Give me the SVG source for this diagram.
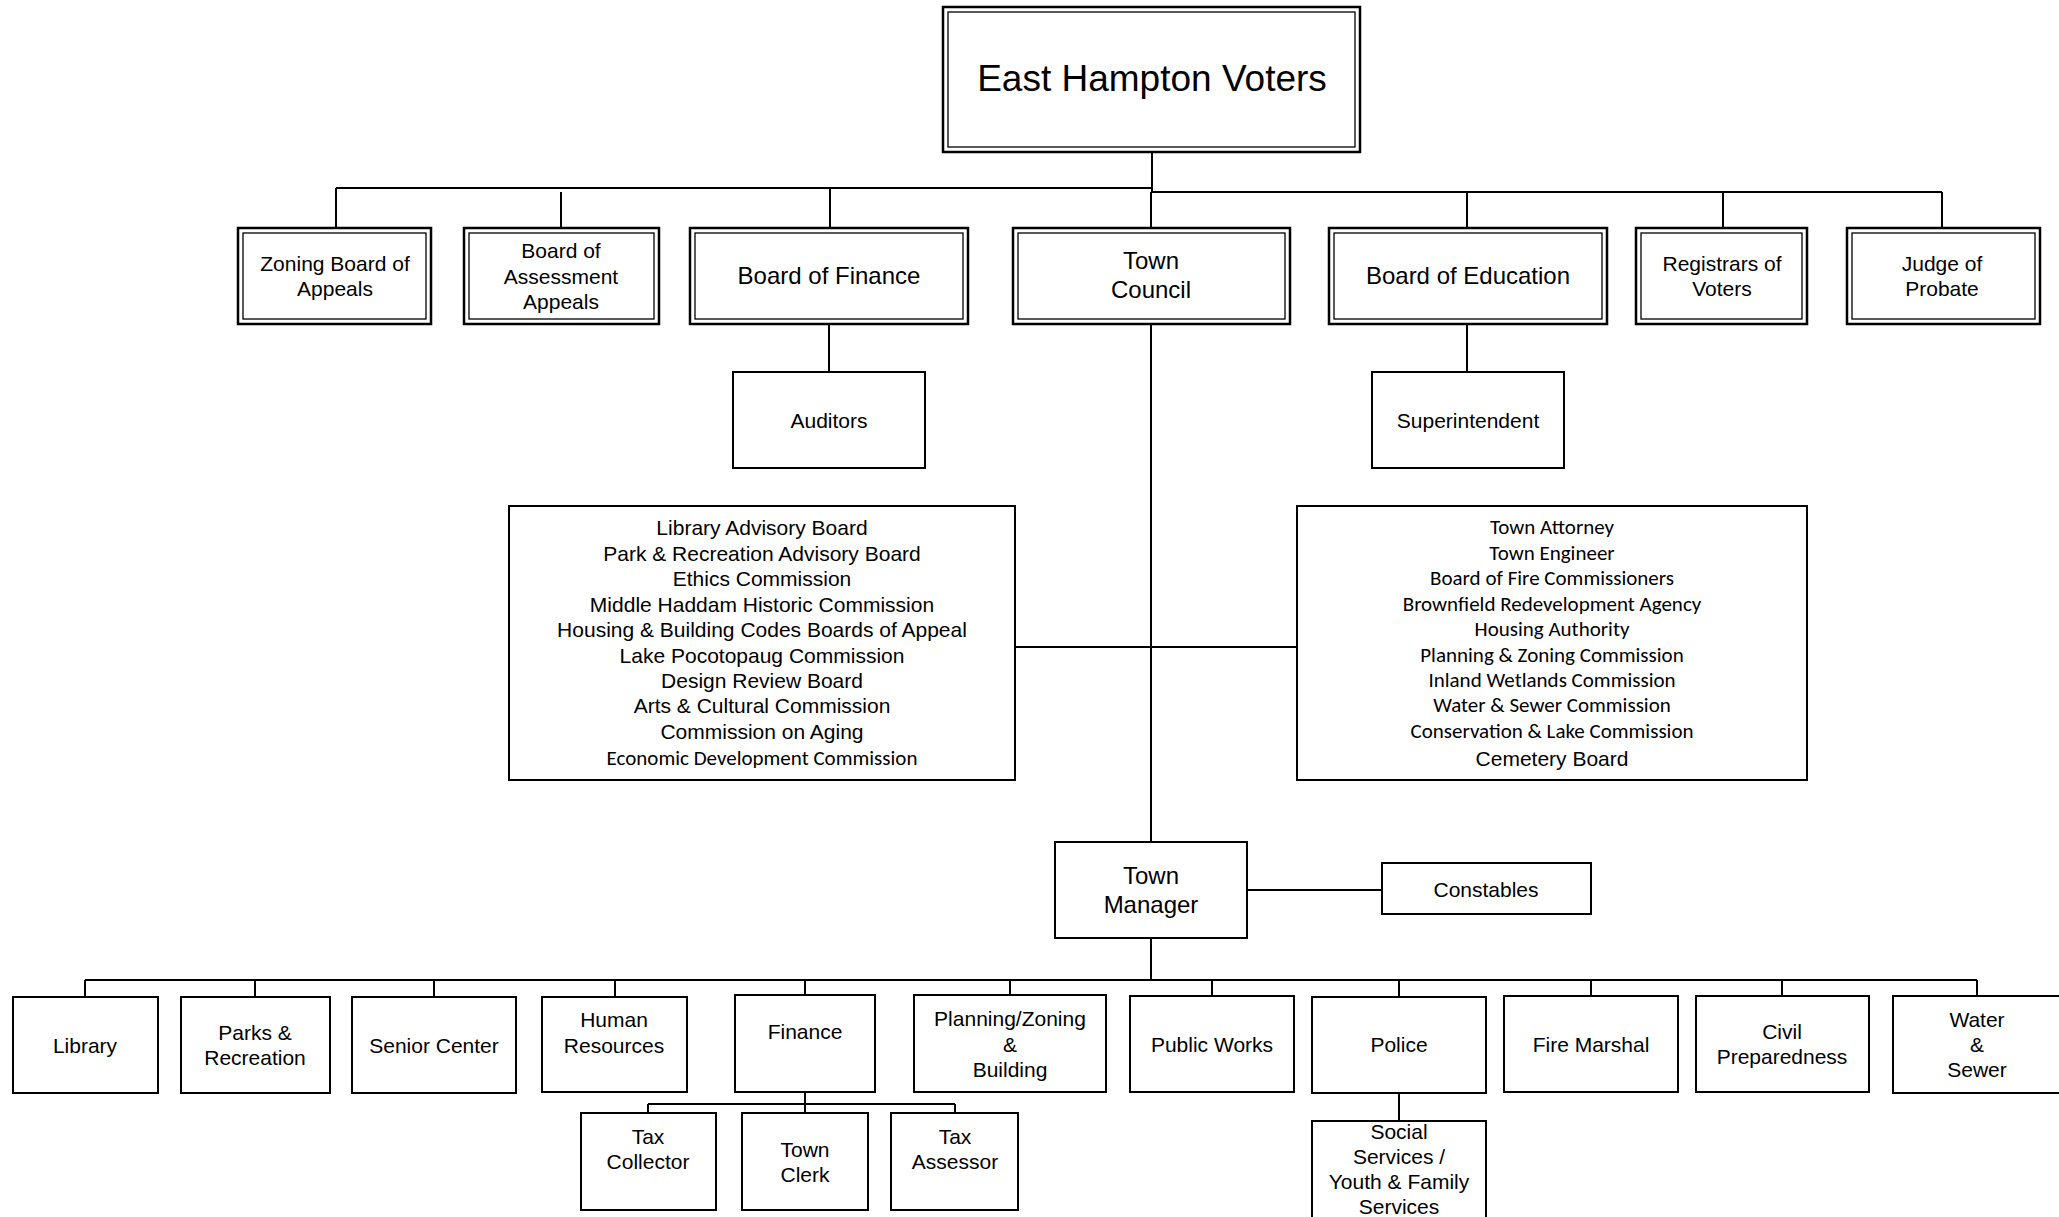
<svg xmlns="http://www.w3.org/2000/svg" width="2059" height="1217" viewBox="0 0 2059 1217">
<style>
.o{fill:#fff;stroke:#000;stroke-width:2.5}
.i{fill:none;stroke:#000;stroke-width:1.3}
.b{fill:#fff;stroke:#000;stroke-width:2}
.t{font-family:"Liberation Sans",Arial,sans-serif;font-size:21px;fill:#000;text-anchor:middle;dominant-baseline:central}
.t24{font-size:24px}
.c{font-family:Carlito,Calibri,Lato,"Liberation Sans",sans-serif;font-size:21px;fill:#000;text-anchor:middle;dominant-baseline:central}
.l{fill:none;stroke:#000;stroke-width:2}
</style>
<rect width="2059" height="1217" fill="#fff"/>
<g id="connectors">
<path class="l" d="M1152 152V192M336 188H1152M1152 192H1942"/>
<path class="l" d="M336 188V228M561 192V228M830 188V228M1151 192V228M1467 192V228M1723 192V228M1942 192V228"/>
<path class="l" d="M829 324V372M1467 324V372"/>
<path class="l" d="M1151 324V842M1015 647H1297"/>
<path class="l" d="M1247 890H1382"/>
<path class="l" d="M1151 938V980M85 980H1977"/>
<path class="l" d="M85 980V997M255 980V997M434 980V997M615 980V997M805 980V995M1010 980V995M1212 980V996M1399 980V997M1591 980V996M1782 980V996M1977 980V996"/>
<path class="l" d="M805 1092V1113M648 1104H955M648 1104V1113M955 1104V1113"/>
<path class="l" d="M1399 1093V1121"/>
</g>
<g id="voters"><rect class="o" x="943" y="7" width="417" height="145"/><rect class="i" x="948" y="12" width="407" height="135"/><text class="t" x="1152" y="78" style="font-size:37px">East Hampton Voters</text></g>
<g id="zba"><rect class="o" x="238" y="228" width="193" height="96"/><rect class="i" x="243" y="233" width="183" height="86"/><text class="t" x="335" y="263">Zoning Board of</text><text class="t" x="335" y="288">Appeals</text></g>
<g id="baa"><rect class="o" x="464" y="228" width="195" height="96"/><rect class="i" x="469" y="233" width="185" height="86"/><text class="t" x="561" y="250">Board of</text><text class="t" x="561" y="276">Assessment</text><text class="t" x="561" y="301">Appeals</text></g>
<g id="bof"><rect class="o" x="690" y="228" width="278" height="96"/><rect class="i" x="695" y="233" width="268" height="86"/><text class="t t24" x="829" y="275">Board of Finance</text></g>
<g id="council"><rect class="o" x="1013" y="228" width="277" height="96"/><rect class="i" x="1018" y="233" width="267" height="86"/><text class="t t24" x="1151" y="260">Town</text><text class="t t24" x="1151" y="289">Council</text></g>
<g id="boe"><rect class="o" x="1329" y="228" width="278" height="96"/><rect class="i" x="1334" y="233" width="268" height="86"/><text class="t t24" x="1468" y="275">Board of Education</text></g>
<g id="registrars"><rect class="o" x="1636" y="228" width="171" height="96"/><rect class="i" x="1641" y="233" width="161" height="86"/><text class="t" x="1722" y="263">Registrars of</text><text class="t" x="1722" y="288">Voters</text></g>
<g id="probate"><rect class="o" x="1847" y="228" width="193" height="96"/><rect class="i" x="1852" y="233" width="183" height="86"/><text class="t" x="1942" y="263">Judge of</text><text class="t" x="1942" y="288">Probate</text></g>
<g id="auditors"><rect class="b" x="733" y="372" width="192" height="96"/><text class="t" x="829" y="420">Auditors</text></g>
<g id="superintendent"><rect class="b" x="1372" y="372" width="192" height="96"/><text class="t" x="1468" y="420">Superintendent</text></g>
<g id="boards-left"><rect class="b" x="509" y="506" width="506" height="274"/>
<text class="t" x="762" y="527">Library Advisory Board</text>
<text class="t" x="762" y="553">Park &amp; Recreation Advisory Board</text>
<text class="t" x="762" y="578">Ethics Commission</text>
<text class="t" x="762" y="604">Middle Haddam Historic Commission</text>
<text class="t" x="762" y="629">Housing &amp; Building Codes Boards of Appeal</text>
<text class="t" x="762" y="655">Lake Pocotopaug Commission</text>
<text class="t" x="762" y="680">Design Review Board</text>
<text class="t" x="762" y="705">Arts &amp; Cultural Commission</text>
<text class="t" x="762" y="731">Commission on Aging</text>
<text class="c" x="762" y="758">Economic Development Commission</text>
</g>
<g id="boards-right"><rect class="b" x="1297" y="506" width="510" height="274"/>
<text class="c" x="1552" y="527">Town Attorney</text>
<text class="c" x="1552" y="553">Town Engineer</text>
<text class="c" x="1552" y="578">Board of Fire Commissioners</text>
<text class="c" x="1552" y="604">Brownfield Redevelopment Agency</text>
<text class="c" x="1552" y="629">Housing Authority</text>
<text class="c" x="1552" y="655">Planning &amp; Zoning Commission</text>
<text class="c" x="1552" y="680">Inland Wetlands Commission</text>
<text class="c" x="1552" y="705">Water &amp; Sewer Commission</text>
<text class="c" x="1552" y="731">Conservation &amp; Lake Commission</text>
<text class="t" x="1552" y="758">Cemetery Board</text>
</g>
<g id="manager"><rect class="b" x="1055" y="842" width="192" height="96"/><text class="t t24" x="1151" y="875">Town</text><text class="t t24" x="1151" y="904">Manager</text></g>
<g id="constables"><rect class="b" x="1382" y="863" width="209" height="51"/><text class="t" x="1486" y="889">Constables</text></g>
<g id="library"><rect class="b" x="13" y="997" width="145" height="96"/><text class="t" x="85" y="1045">Library</text></g>
<g id="parks"><rect class="b" x="181" y="997" width="149" height="96"/><text class="t" x="255" y="1032">Parks &amp;</text><text class="t" x="255" y="1057">Recreation</text></g>
<g id="senior"><rect class="b" x="352" y="997" width="164" height="96"/><text class="t" x="434" y="1045">Senior Center</text></g>
<g id="hr"><rect class="b" x="542" y="997" width="145" height="95"/><text class="t" x="614" y="1019">Human</text><text class="t" x="614" y="1045">Resources</text></g>
<g id="finance"><rect class="b" x="735" y="995" width="140" height="97"/><text class="t" x="805" y="1031">Finance</text></g>
<g id="planning"><rect class="b" x="914" y="995" width="192" height="97"/><text class="t" x="1010" y="1018">Planning/Zoning</text><text class="t" x="1010" y="1044">&amp;</text><text class="t" x="1010" y="1069">Building</text></g>
<g id="publicworks"><rect class="b" x="1130" y="996" width="164" height="96"/><text class="t" x="1212" y="1044">Public Works</text></g>
<g id="police"><rect class="b" x="1312" y="997" width="174" height="96"/><text class="t" x="1399" y="1044">Police</text></g>
<g id="firemarshal"><rect class="b" x="1504" y="996" width="174" height="96"/><text class="t" x="1591" y="1044">Fire Marshal</text></g>
<g id="civil"><rect class="b" x="1696" y="996" width="173" height="96"/><text class="t" x="1782" y="1031">Civil</text><text class="t" x="1782" y="1056">Preparedness</text></g>
<g id="water"><rect class="b" x="1893" y="996" width="170" height="97"/><text class="t" x="1977" y="1019">Water</text><text class="t" x="1977" y="1044">&amp;</text><text class="t" x="1977" y="1069">Sewer</text></g>
<g id="taxcollector"><rect class="b" x="581" y="1113" width="135" height="97"/><text class="t" x="648" y="1136">Tax</text><text class="t" x="648" y="1161">Collector</text></g>
<g id="townclerk"><rect class="b" x="742" y="1113" width="126" height="97"/><text class="t" x="805" y="1149">Town</text><text class="t" x="805" y="1174">Clerk</text></g>
<g id="taxassessor"><rect class="b" x="891" y="1113" width="127" height="97"/><text class="t" x="955" y="1136">Tax</text><text class="t" x="955" y="1161">Assessor</text></g>
<g id="social"><rect class="b" x="1312" y="1121" width="174" height="100"/><text class="t" x="1399" y="1131">Social</text><text class="t" x="1399" y="1156">Services /</text><text class="t" x="1399" y="1181">Youth &amp; Family</text><text class="t" x="1399" y="1206">Services</text></g>
</svg>
